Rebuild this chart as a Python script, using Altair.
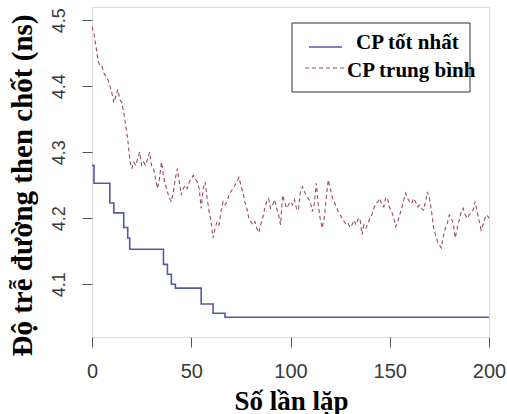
import altair as alt
import pandas as pd

# ---------------- data ----------------
iterations = list(range(201))

avg_values = [
    4.49, 4.48, 4.46, 4.44, 4.43, 4.43, 4.42, 4.415, 4.41, 4.40,
    4.39, 4.375, 4.385, 4.395, 4.38, 4.375, 4.36, 4.34, 4.32, 4.29,
    4.275, 4.285, 4.28, 4.29, 4.30, 4.28, 4.285, 4.28, 4.29, 4.30,
    4.28, 4.275, 4.26, 4.245, 4.26, 4.285, 4.265, 4.25, 4.24, 4.23,
    4.225, 4.24, 4.26, 4.275, 4.255, 4.235, 4.245, 4.25, 4.245, 4.255,
    4.26, 4.265, 4.26, 4.255, 4.245, 4.215, 4.245, 4.255, 4.23, 4.21,
    4.195, 4.17, 4.185, 4.195, 4.19, 4.21, 4.225, 4.22, 4.225, 4.235,
    4.24, 4.245, 4.25, 4.255, 4.262, 4.25, 4.24, 4.225, 4.215, 4.20,
    4.195, 4.19, 4.195, 4.185, 4.178, 4.19, 4.20, 4.215, 4.225, 4.23,
    4.215, 4.22, 4.228, 4.215, 4.205, 4.19, 4.235, 4.225, 4.215, 4.22,
    4.225, 4.22, 4.228, 4.215, 4.212, 4.24, 4.248, 4.24, 4.235, 4.23,
    4.225, 4.21, 4.222, 4.253, 4.22, 4.198, 4.185, 4.20, 4.23, 4.258,
    4.245, 4.232, 4.225, 4.218, 4.21, 4.205, 4.20, 4.195, 4.19, 4.192,
    4.186, 4.19, 4.197, 4.19, 4.198, 4.20, 4.175, 4.19, 4.185, 4.192,
    4.20, 4.205, 4.215, 4.222, 4.225, 4.23, 4.22, 4.217, 4.232, 4.228,
    4.215, 4.21, 4.20, 4.187, 4.195, 4.205, 4.215, 4.227, 4.238, 4.23,
    4.225, 4.222, 4.23, 4.225, 4.217, 4.22, 4.215, 4.212, 4.225, 4.24,
    4.23, 4.212, 4.187, 4.175, 4.165, 4.16, 4.155, 4.172, 4.185, 4.192,
    4.205, 4.20, 4.192, 4.17, 4.185, 4.197, 4.21, 4.215, 4.205, 4.20,
    4.205, 4.208, 4.212, 4.225, 4.21, 4.197, 4.182, 4.19, 4.20, 4.205,
    4.20,
]

best_change_iter = [0, 1, 9, 11, 16, 18, 19, 36, 38, 40, 42, 55, 61, 67, 200]
best_change_val = [4.28, 4.253, 4.223, 4.208, 4.186, 4.17, 4.153, 4.13,
                   4.115, 4.10, 4.094, 4.07, 4.056, 4.05, 4.05]

x_ticks = [0, 50, 100, 150, 200]
y_ticks = [4.1, 4.2, 4.3, 4.4, 4.5]
series_names = ["CP tốt nhất", "CP trung bình"]
x_title = "Số lần lặp"
y_title = "Độ trễ đường then chốt (ns)"

# ---------------- styling ----------------
BEST_COLOR = "#5558a8"
AVG_COLOR = "#9a4a5a"
SERIF = "Liberation Serif"
SANS = "Liberation Sans"

avg_df = pd.DataFrame({"iter": iterations, "value": avg_values})
best_df = pd.DataFrame({"iter": best_change_iter, "value": best_change_val})

x_scale = alt.Scale(domain=[0, 200], nice=False)
y_scale = alt.Scale(domain=[4.02, 4.52], nice=False, zero=False)

x_axis = alt.Axis(
    values=x_ticks, title=x_title, grid=False, domain=False,
    tickSize=10, tickColor="#555555", tickWidth=1,
    labelFont=SANS, labelFontSize=20, labelColor="#3a3a3a", labelPadding=14,
    labelFlush=False,
    titleFont=SERIF, titleFontSize=27, titleFontWeight="bold", titleColor="black",
    titleAnchor="middle", titleX=199, titleY=72, titleBaseline="alphabetic",
)
y_axis = alt.Axis(
    values=y_ticks, format=".1f", title=y_title, grid=False, domain=False,
    tickSize=10, tickColor="#555555", tickWidth=1,
    labelFont=SANS, labelFontSize=18, labelColor="#3a3a3a", labelPadding=14,
    labelAngle=270, labelAlign="center", labelBaseline="bottom", labelFlush=False,
    titleFont=SERIF, titleFontSize=29, titleFontWeight="bold", titleColor="black",
    titleAngle=270, titleX=-70, titleY=178, titleAlign="center", titleBaseline="middle",
)

best_line = alt.Chart(best_df).mark_line(
    color=BEST_COLOR, strokeWidth=1.6, interpolate="step-after"
).encode(
    x=alt.X("iter:Q", scale=x_scale, axis=x_axis),
    y=alt.Y("value:Q", scale=y_scale, axis=y_axis),
)

avg_line = alt.Chart(avg_df).mark_line(
    color=AVG_COLOR, strokeWidth=1.1, strokeDash=[4, 3]
).encode(
    x=alt.X("iter:Q", scale=x_scale, axis=x_axis),
    y=alt.Y("value:Q", scale=y_scale, axis=y_axis),
)

one = alt.Data(values=[{"k": 0}])

legend_box = alt.Chart(one).mark_rect(
    fill="white", stroke="#333333", strokeWidth=1
).encode(
    x=alt.value(200), x2=alt.value(378), y=alt.value(16), y2=alt.value(85)
)
legend_best = alt.Chart(one).mark_rule(
    color=BEST_COLOR, strokeWidth=1.6
).encode(
    x=alt.value(217), x2=alt.value(250), y=alt.value(40)
)
legend_avg = alt.Chart(one).mark_rule(
    color=AVG_COLOR, strokeWidth=1.1, strokeDash=[4, 3]
).encode(
    x=alt.value(213), x2=alt.value(253), y=alt.value(61)
)
legend_t1 = alt.Chart(one).mark_text(
    text=series_names[0], font=SERIF, fontSize=21, fontWeight="bold",
    align="left", baseline="alphabetic", color="black"
).encode(x=alt.value(264), y=alt.value(42))
legend_t2 = alt.Chart(one).mark_text(
    text=series_names[1], font=SERIF, fontSize=21, fontWeight="bold",
    align="left", baseline="alphabetic", color="black"
).encode(x=alt.value(255), y=alt.value(70))

chart = alt.layer(
    avg_line, best_line, legend_box, legend_best, legend_avg, legend_t1, legend_t2
).properties(
    width=397, height=330,
    padding={"left": 92, "top": 7, "right": 18, "bottom": 77},
    autosize=alt.AutoSizeParams(type="none"),
).configure_view(
    stroke="#444444", strokeWidth=1
).configure(background="white")

chart.save("out.html", embed_options={"renderer": "svg", "actions": False})
